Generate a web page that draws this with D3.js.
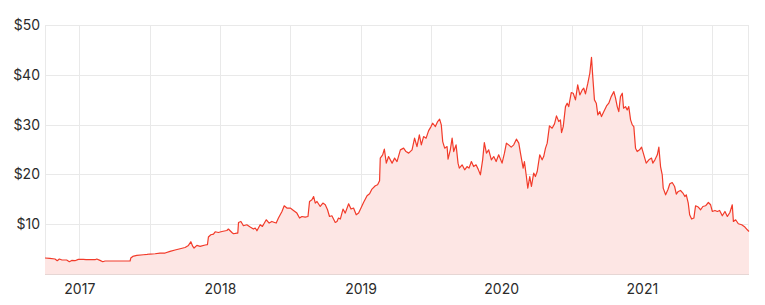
<!DOCTYPE html>
<html>
<head>
<meta charset="utf-8">
<script src="https://cdn.jsdelivr.net/npm/d3@7"></script>
<style>
  body { margin: 0; background: #fff; }
  #chart text { font-family: Inter, "Noto Sans", sans-serif; }
</style>
</head>
<body>
<div id="chart"></div>
<script>
// share price (x as decimal year)
const years = [
  2016.756, 2016.791, 2016.827, 2016.843, 2016.858, 2016.877, 2016.910, 2016.929, 2016.946, 2016.969,
  2016.993, 2017.028, 2017.048, 2017.076, 2017.112, 2017.124, 2017.147, 2017.167, 2017.183, 2017.254,
  2017.325, 2017.361, 2017.366, 2017.380, 2017.409, 2017.456, 2017.482, 2017.503, 2017.539, 2017.574,
  2017.610, 2017.645, 2017.681, 2017.717, 2017.752, 2017.776, 2017.793, 2017.807, 2017.816, 2017.836,
  2017.859, 2017.895, 2017.911, 2017.918, 2017.935, 2017.954, 2017.966, 2017.989, 2018.014, 2018.049,
  2018.060, 2018.085, 2018.096, 2018.120, 2018.127, 2018.132, 2018.149, 2018.167, 2018.191, 2018.215,
  2018.238, 2018.251, 2018.263, 2018.286, 2018.302, 2018.329, 2018.350, 2018.369, 2018.388, 2018.400,
  2018.416, 2018.441, 2018.457, 2018.476, 2018.500, 2018.523, 2018.547, 2018.566, 2018.583, 2018.606,
  2018.626, 2018.637, 2018.654, 2018.666, 2018.678, 2018.690, 2018.713, 2018.732, 2018.749, 2018.765,
  2018.779, 2018.796, 2018.820, 2018.832, 2018.843, 2018.856, 2018.875, 2018.891, 2018.915, 2018.932,
  2018.950, 2018.969, 2018.986, 2019.003, 2019.021, 2019.046, 2019.064, 2019.081, 2019.105, 2019.121,
  2019.135, 2019.140, 2019.157, 2019.169, 2019.183, 2019.199, 2019.224, 2019.242, 2019.259, 2019.283,
  2019.306, 2019.323, 2019.342, 2019.366, 2019.384, 2019.401, 2019.418, 2019.432, 2019.448, 2019.466,
  2019.484, 2019.501, 2019.512, 2019.532, 2019.548, 2019.562, 2019.574, 2019.584, 2019.598, 2019.615,
  2019.622, 2019.638, 2019.651, 2019.662, 2019.679, 2019.693, 2019.702, 2019.722, 2019.740, 2019.757,
  2019.771, 2019.788, 2019.804, 2019.821, 2019.836, 2019.852, 2019.868, 2019.880, 2019.895, 2019.911,
  2019.930, 2019.947, 2019.964, 2019.982, 2020.006, 2020.023, 2020.037, 2020.053, 2020.071, 2020.089,
  2020.108, 2020.125, 2020.137, 2020.156, 2020.165, 2020.179, 2020.189, 2020.203, 2020.215, 2020.231,
  2020.243, 2020.256, 2020.274, 2020.291, 2020.302, 2020.315, 2020.327, 2020.343, 2020.362, 2020.379,
  2020.393, 2020.409, 2020.421, 2020.429, 2020.441, 2020.457, 2020.469, 2020.480, 2020.498, 2020.512,
  2020.528, 2020.544, 2020.559, 2020.576, 2020.587, 2020.599, 2020.616, 2020.630, 2020.642, 2020.651,
  2020.663, 2020.676, 2020.687, 2020.701, 2020.713, 2020.730, 2020.749, 2020.765, 2020.782, 2020.801,
  2020.813, 2020.825, 2020.836, 2020.848, 2020.861, 2020.870, 2020.884, 2020.896, 2020.907, 2020.920,
  2020.932, 2020.943, 2020.955, 2020.967, 2020.984, 2020.998, 2021.014, 2021.031, 2021.050, 2021.069,
  2021.078, 2021.093, 2021.110, 2021.121, 2021.133, 2021.145, 2021.152, 2021.169, 2021.185, 2021.199,
  2021.216, 2021.233, 2021.245, 2021.259, 2021.275, 2021.292, 2021.306, 2021.316, 2021.330, 2021.340,
  2021.354, 2021.370, 2021.382, 2021.401, 2021.418, 2021.434, 2021.453, 2021.473, 2021.489, 2021.501,
  2021.520, 2021.537, 2021.553, 2021.572, 2021.591, 2021.608, 2021.626, 2021.643, 2021.651, 2021.667,
  2021.686, 2021.710, 2021.733, 2021.750, 2021.762
];

const prices = [
  3.21, 3.13, 3.01, 2.67, 3.01, 2.81, 2.81, 2.47, 2.73, 2.67,
  2.93, 2.93, 2.87, 2.87, 2.87, 3.01, 2.73, 2.47, 2.61, 2.61,
  2.61, 2.61, 3.21, 3.53, 3.73, 3.87, 3.93, 4.01, 4.07, 4.21,
  4.21, 4.53, 4.81, 5.07, 5.33, 5.74, 6.48, 5.54, 5.21, 5.74,
  5.54, 5.82, 5.88, 7.42, 7.88, 8.02, 8.48, 8.34, 8.54, 8.74,
  9.03, 8.34, 8.08, 8.22, 8.22, 10.35, 10.55, 9.69, 9.89, 9.43,
  9.03, 9.23, 8.68, 9.89, 9.55, 10.89, 10.23, 10.55, 10.35, 10.23,
  11.23, 12.56, 13.70, 13.24, 13.24, 12.76, 12.23, 11.23, 11.55, 11.43,
  11.55, 14.56, 14.90, 15.56, 14.24, 14.56, 13.56, 14.24, 13.90, 12.90,
  11.55, 11.69, 10.35, 10.55, 11.23, 11.03, 13.04, 12.23, 14.10, 13.04,
  13.24, 11.89, 12.23, 13.24, 14.36, 15.70, 16.10, 17.05, 17.71, 17.91,
  18.71, 23.27, 23.93, 25.07, 22.26, 23.59, 22.26, 23.27, 22.58, 24.93,
  25.27, 24.59, 24.27, 24.93, 27.28, 25.59, 27.94, 25.93, 27.60, 27.28,
  28.80, 29.60, 30.28, 29.60, 30.61, 31.09, 29.94, 26.59, 25.27, 25.59,
  23.06, 24.93, 27.28, 24.59, 25.93, 22.26, 21.26, 21.92, 20.92, 21.58,
  21.26, 22.58, 21.58, 21.92, 21.06, 19.92, 22.92, 26.39, 24.27, 24.93,
  22.92, 23.59, 22.58, 23.93, 22.26, 24.27, 26.27, 25.93, 25.47, 25.93,
  27.08, 26.27, 24.27, 21.26, 22.58, 19.57, 17.25, 19.57, 17.57, 20.26,
  19.57, 20.58, 23.93, 22.92, 23.59, 25.27, 26.27, 29.74, 29.28, 30.14,
  31.75, 30.61, 30.95, 28.40, 29.60, 33.61, 34.30, 33.61, 36.42, 36.30,
  34.96, 37.97, 35.96, 36.96, 37.30, 36.16, 38.31, 40.31, 43.52, 39.63,
  34.96, 34.30, 31.95, 32.61, 31.61, 32.61, 33.75, 34.30, 35.62, 36.62,
  35.30, 33.61, 32.61, 35.62, 36.30, 33.29, 33.61, 32.95, 33.61, 30.95,
  29.94, 29.60, 25.27, 24.59, 24.93, 25.47, 23.93, 22.26, 22.92, 23.27,
  22.26, 22.92, 23.93, 25.47, 21.58, 19.92, 17.25, 15.90, 16.91, 18.11,
  18.37, 17.57, 16.04, 16.57, 16.77, 16.25, 15.56, 15.90, 14.24, 11.89,
  11.03, 11.23, 13.70, 13.44, 12.90, 13.56, 13.70, 14.36, 13.90, 12.56,
  12.76, 12.56, 12.76, 11.69, 12.56, 11.55, 12.35, 13.90, 10.55, 10.89,
  10.09, 9.89, 9.43, 8.88, 8.54
];

const yTicks = [10, 20, 30, 40, 50];
const yearLabels = [2017, 2018, 2019, 2020, 2021];
const gridYears = [2017, 2017.5, 2018, 2018.5, 2019, 2019.5, 2020, 2020.5, 2021, 2021.5];

const width = 765;
const height = 305;
const margin = { top: 25, right: 16, bottom: 31, left: 45 };

const data = years.map((t, i) => ({ t, v: prices[i] }));

const svg = d3.select("#chart")
  .append("svg")
  .attr("width", width)
  .attr("height", height);

const x = d3.scaleLinear()
  .domain([2016.756, 2021.762])
  .range([margin.left, width - margin.right]);

const y = d3.scaleLinear()
  .domain([0, 50])
  .range([height - margin.bottom, margin.top]);

// grid
const grid = svg.append("g").attr("stroke", "#e9e9e9").attr("stroke-width", 1);

grid.selectAll(".gy")
  .data(yTicks)
  .join("line")
  .attr("x1", margin.left)
  .attr("x2", width - margin.right)
  .attr("y1", d => Math.round(y(d)) + 0.5)
  .attr("y2", d => Math.round(y(d)) + 0.5);

grid.selectAll(".gx")
  .data(gridYears)
  .join("line")
  .attr("x1", d => Math.round(x(d)) + 0.5)
  .attr("x2", d => Math.round(x(d)) + 0.5)
  .attr("y1", margin.top)
  .attr("y2", height - margin.bottom);

grid.append("line")
  .attr("x1", margin.left + 0.5).attr("x2", margin.left + 0.5)
  .attr("y1", margin.top).attr("y2", height - margin.bottom);
grid.append("line")
  .attr("x1", width - margin.right - 0.5).attr("x2", width - margin.right - 0.5)
  .attr("y1", margin.top).attr("y2", height - margin.bottom);

// area + line
const area = d3.area()
  .x(d => x(d.t))
  .y0(y(0))
  .y1(d => y(d.v));

const line = d3.line()
  .x(d => x(d.t))
  .y(d => y(d.v));

svg.append("path")
  .datum(data)
  .attr("fill", "#fde6e4")
  .attr("d", area);

svg.append("path")
  .datum(data)
  .attr("fill", "none")
  .attr("stroke", "#f23b2a")
  .attr("stroke-width", 1.2)
  .attr("stroke-linejoin", "round")
  .attr("d", line);

// bottom baseline
svg.append("line")
  .attr("x1", margin.left)
  .attr("x2", width - margin.right)
  .attr("y1", Math.round(y(0)) + 0.5)
  .attr("y2", Math.round(y(0)) + 0.5)
  .attr("stroke", "#e6d6d4");

// axes (labels only)
const yAxis = svg.append("g")
  .attr("transform", `translate(${margin.left},0)`)
  .call(d3.axisLeft(y).tickValues(yTicks).tickSize(0).tickPadding(5).tickFormat(d => "$" + d));

const xAxis = svg.append("g")
  .attr("transform", `translate(0,${height - margin.bottom})`)
  .call(d3.axisBottom(x).tickValues(yearLabels).tickSize(0).tickPadding(10).tickFormat(d3.format("d")));

[yAxis, xAxis].forEach(g => {
  g.select(".domain").remove();
  g.selectAll("text")
    .attr("fill", "#2b2b2b")
    .style("font-size", "14px");
});
</script>
</body>
</html>
